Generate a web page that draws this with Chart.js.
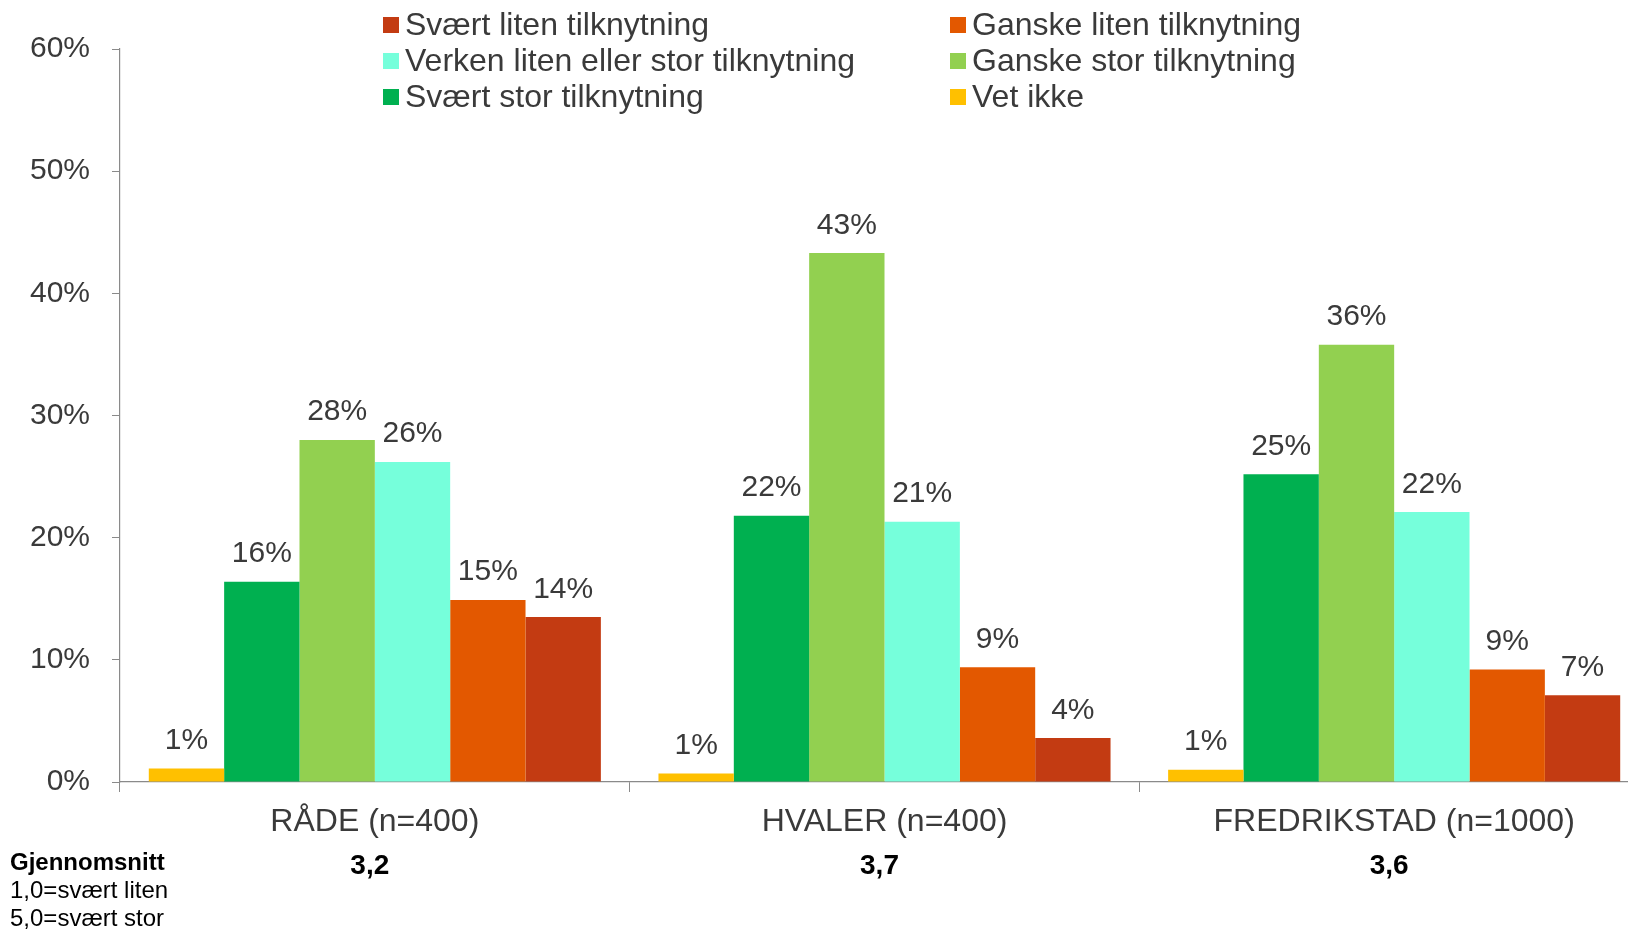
<!DOCTYPE html>
<html>
<head>
<meta charset="utf-8">
<script src="https://cdn.jsdelivr.net/npm/chart.js@4.4.1/dist/chart.umd.min.js"></script>
<style>
  html, body { margin: 0; padding: 0; overflow: hidden; background: #ffffff; width: 1628px; height: 929px; }
  #wrap { position: relative; width: 1649px; height: 929px; }
  canvas { display: block; }
</style>
</head>
<body>
<div id="wrap"><canvas id="c" width="1649" height="929"></canvas></div>
<script>
// ---- Data ----
const categories = ['RÅDE (n=400)', 'HVALER (n=400)', 'FREDRIKSTAD (n=1000)'];
const vetIkke     = [1.1, 0.7, 1.0];
const svaertStor  = [16.4, 21.8, 25.2];
const ganskeStor  = [28.0, 43.3, 35.8];
const verken      = [26.2, 21.3, 22.1];
const ganskeLiten = [14.9, 9.4, 9.2];
const svaertLiten = [13.5, 3.6, 7.1];
const meanValues  = ['3,2', '3,7', '3,6'];
const noteLines   = ['Gjennomsnitt', '1,0=svært liten', '5,0=svært stor'];
const seriesNames = ['Vet ikke', 'Svært stor tilknytning', 'Ganske stor tilknytning',
                     'Verken liten eller stor tilknytning', 'Ganske liten tilknytning', 'Svært liten tilknytning'];
const seriesData  = [vetIkke, svaertStor, ganskeStor, verken, ganskeLiten, svaertLiten];
const seriesColors = ['#FFC000', '#00B050', '#92D050', '#76FFDB', '#E35800', '#C33B12'];
const yMin = 0, yMax = 60, yStep = 10;

const FONT = '"Liberation Sans", Arial, Helvetica, sans-serif';
const TEXT = '#3a3a3a';
const AXIS = '#8a8a8a';

const valueLabels = {
  id: 'valueLabels',
  afterDatasetsDraw(chart) {
    const ctx = chart.ctx;
    ctx.save();
    ctx.font = '30px ' + FONT;
    ctx.fillStyle = TEXT;
    ctx.textAlign = 'center';
    ctx.textBaseline = 'alphabetic';
    chart.data.datasets.forEach((ds, i) => {
      const meta = chart.getDatasetMeta(i);
      meta.data.forEach((bar, j) => {
        ctx.fillText(Math.round(ds.data[j]) + '%', bar.x, bar.y - 19.5);
      });
    });
    ctx.restore();
  }
};

const customLegend = {
  id: 'customLegend',
  afterDraw(chart) {
    const ctx = chart.ctx;
    const ds = chart.data.datasets;
    const order = ds.map((d, i) => i).reverse();
    ctx.save();
    ctx.font = '32px ' + FONT;
    ctx.textBaseline = 'middle';
    ctx.textAlign = 'left';
    order.forEach((idx, k) => {
      const col = k % 2, row = Math.floor(k / 2);
      const x = col === 0 ? 383 : 950;
      const yc = 25 + row * 36;
      ctx.fillStyle = ds[idx].backgroundColor;
      ctx.fillRect(x, yc - 8, 16, 16);
      ctx.fillStyle = TEXT;
      ctx.fillText(ds[idx].label, x + 22, yc + 1);
    });
    ctx.restore();
  }
};

const bottomNotes = {
  id: 'bottomNotes',
  afterDraw(chart) {
    const ctx = chart.ctx;
    const xs = chart.scales.x;
    ctx.save();
    ctx.textBaseline = 'middle';
    ctx.textAlign = 'left';
    ctx.fillStyle = '#000000';
    noteLines.forEach((t, i) => {
      ctx.font = (i === 0 ? 'bold ' : '') + '24px ' + FONT;
      ctx.fillText(t, 10, 863 + i * 28);
    });
    ctx.font = 'bold 28px ' + FONT;
    ctx.textAlign = 'center';
    meanValues.forEach((m, i) => {
      ctx.fillText(m, xs.getPixelForValue(i) - 5, 866);
    });
    ctx.restore();
  }
};

new Chart(document.getElementById('c'), {
  type: 'bar',
  data: {
    labels: categories,
    datasets: seriesNames.map((n, i) => ({
      label: n,
      data: seriesData[i],
      backgroundColor: seriesColors[i],
      borderWidth: 0,
      barPercentage: 1.0,
      categoryPercentage: 0.887
    }))
  },
  options: {
    responsive: false,
    animation: false,
    layout: { padding: { top: 49, left: 0, right: 0, bottom: 0 } },
    plugins: { legend: { display: false }, tooltip: { enabled: false } },
    scales: {
      x: {
        offset: true,
        grid: { display: true, drawOnChartArea: false, drawTicks: true, tickLength: 10, color: AXIS, offset: true },
        border: { display: true, color: AXIS, width: 1.2 },
        ticks: { font: { family: FONT, size: 32 }, color: TEXT, padding: 11, maxRotation: 0, autoSkip: false },
        afterFit(scale) { scale.height = 147; }
      },
      y: {
        min: yMin, max: yMax,
        grid: { display: true, drawOnChartArea: false, drawTicks: true, tickLength: 8, color: AXIS },
        border: { display: true, color: AXIS, width: 1.2 },
        ticks: { stepSize: yStep, font: { family: FONT, size: 30 }, color: TEXT, padding: 22,
                 callback: v => v + '%' },
        afterFit(scale) { scale.width = 120; }
      }
    }
  },
  plugins: [valueLabels, customLegend, bottomNotes]
});
</script>
</body>
</html>
